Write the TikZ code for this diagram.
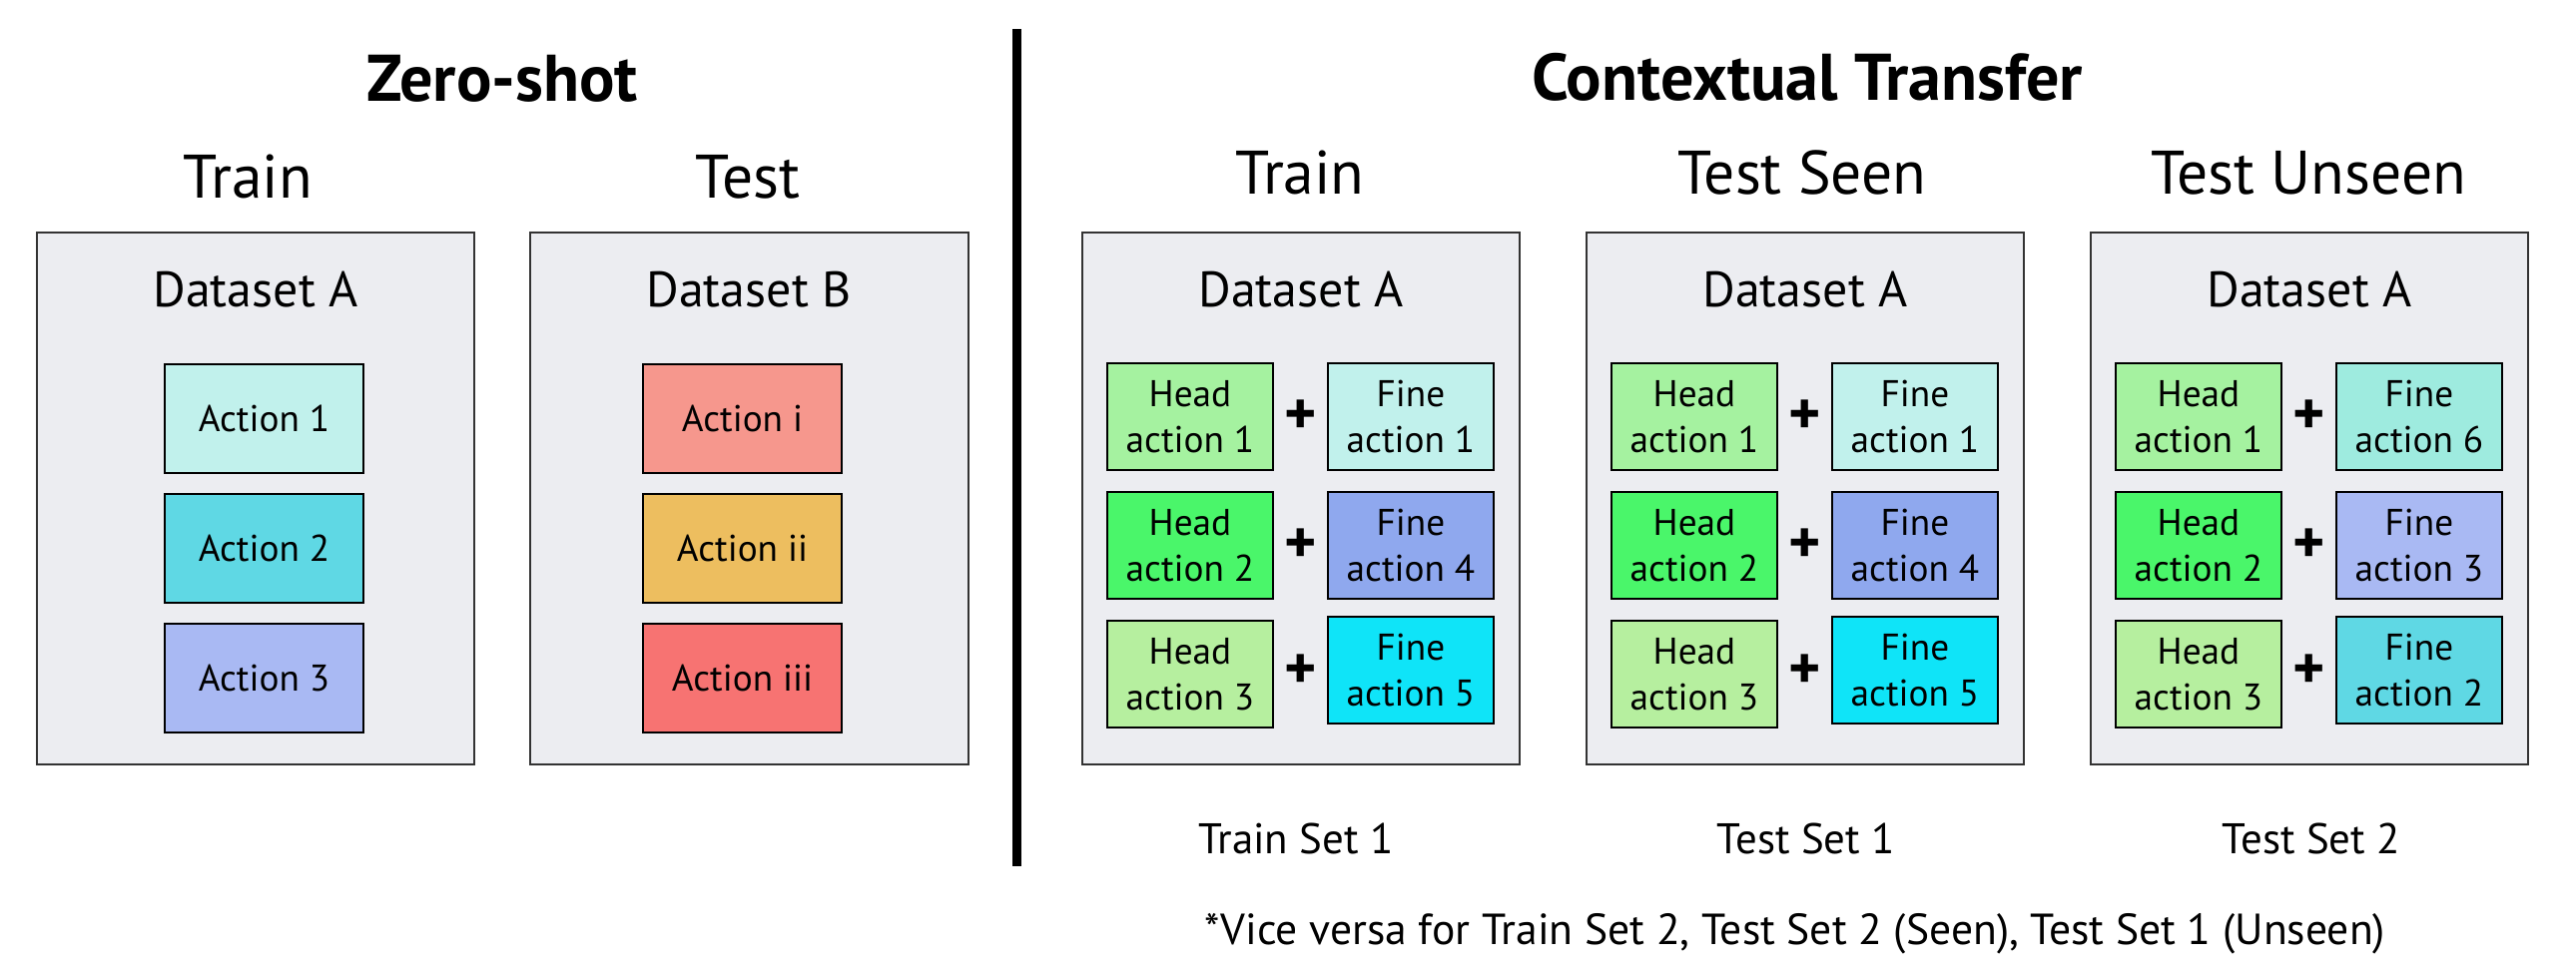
\documentclass[tikz,border=0pt]{standalone}
\usepackage{fontspec}
\setmainfont{PT Sans}
\definecolor{panelfill}{HTML}{ECEDF1}
\definecolor{panelborder}{HTML}{333333}
\definecolor{cA}{HTML}{C1F1EC}
\definecolor{cB}{HTML}{5FD8E4}
\definecolor{cC}{HTML}{A9B9F3}
\definecolor{cI}{HTML}{F6978D}
\definecolor{cII}{HTML}{EDBE5F}
\definecolor{cIII}{HTML}{F77372}
\definecolor{hA}{HTML}{A5F2A0}
\definecolor{hB}{HTML}{4AF66A}
\definecolor{hC}{HTML}{B6EF9F}
\definecolor{fD}{HTML}{8FA8EE}
\definecolor{fE}{HTML}{0FE4F8}
\definecolor{fF}{HTML}{9EEBDF}
\tikzset{
  panel/.style={draw=panelborder, fill=panelfill, line width=0.6pt, minimum width=4.38cm, minimum height=5.33cm, inner sep=0pt},
  actbox/.style={draw=black, line width=0.6pt, minimum width=1.99cm, minimum height=1.09cm, inner sep=0pt, font=\fontsize{10.6pt}{13pt}\selectfont},
  pairbox/.style={draw=black, line width=0.6pt, minimum width=1.66cm, minimum height=1.07cm, inner sep=0pt, align=center, font=\fontsize{10.6pt}{13.1pt}\selectfont},
  titletext/.style={font=\fontsize{18.8pt}{22pt}\selectfont\bfseries, anchor=base},
  subtitle/.style={font=\fontsize{17.5pt}{21pt}\selectfont, anchor=base},
  dslabel/.style={font=\fontsize{14.2pt}{17pt}\selectfont, anchor=base},
  setlabel/.style={font=\fontsize{12.2pt}{15pt}\selectfont, anchor=base},
  notelabel/.style={font=\fontsize{12.4pt}{15pt}\selectfont, anchor=base},
  plussign/.style={font=\fontsize{17.5pt}{19pt}\selectfont\bfseries, inner sep=0pt},
}
% #1 name prefix, #2 left x, #3/#4 fine 1 colour/number, #5/#6 fine 2, #7/#8 fine 3
\newcommand\ctpanel[8]{%
  \node[panel] (#1) at ({#2+219},499.5) {};
  \node[dslabel] (#1ds) at ({#2+219},307) {Dataset A};
  \node[pairbox, fill=hA] (#1h1) at ({#2+108},417.5) {Head\\action 1};
  \node[pairbox, fill=hB] (#1h2) at ({#2+108},546.5) {Head\\action 2};
  \node[pairbox, fill=hC] (#1h3) at ({#2+108},675.5) {Head\\action 3};
  \node[pairbox, fill=#3] (#1f1) at ({#2+329},417.5) {Fine\\action #4};
  \node[pairbox, fill=#5] (#1f2) at ({#2+329},546.5) {Fine\\action #6};
  \node[pairbox, fill=#7] (#1f3) at ({#2+329},671.5) {Fine\\action #8};
  \node[plussign] (#1p1) at ({#2+218.5},418) {+};
  \node[plussign] (#1p2) at ({#2+218.5},547) {+};
  \node[plussign] (#1p3) at ({#2+218.5},673) {+};
}
\begin{document}
\begin{tikzpicture}[x=0.01cm,y=-0.01cm]
\useasboundingbox (0,0) rectangle (2580,975);
% divider
\coordinate (divtop) at (1018.5,29);
\coordinate (divbot) at (1018.5,868);
\draw[line width=2.3pt] (divtop) -- (divbot);
% Zero-shot
\node[titletext] (zs) at (503,101) {Zero-shot};
\node[subtitle] (trA) at (248.5,198) {Train};
\node[subtitle] (teB) at (749,198) {Test};
\node[panel] (pA) at (256,499.5) {};
\node[panel] (pB) at (750.5,499.5) {};
\node[dslabel] (dA) at (256,307) {Dataset A};
\node[dslabel] (dB) at (750,307) {Dataset B};
\node[actbox, fill=cA] (a1) at (264.5,419.5) {Action 1};
\node[actbox, fill=cB] (a2) at (264.5,549.5) {Action 2};
\node[actbox, fill=cC] (a3) at (264.5,679.5) {Action 3};
\node[actbox, fill=cI] (b1) at (743.5,419.5) {Action i};
\node[actbox, fill=cII] (b2) at (743.5,549.5) {Action ii};
\node[actbox, fill=cIII] (b3) at (743.5,679.5) {Action iii};
% Contextual transfer
\node[titletext] (ct) at (1810,100) {Contextual Transfer};
\node[subtitle] (trC) at (1302,194) {Train};
\node[subtitle] (tsC) at (1805,194) {Test Seen};
\node[subtitle] (tuC) at (2312,194) {Test Unseen};
\ctpanel{P}{1084}{cA}{1}{fD}{4}{fE}{5}
\ctpanel{Q}{1589}{cA}{1}{fD}{4}{fE}{5}
\ctpanel{R}{2094}{fF}{6}{cC}{3}{cB}{2}
\node[setlabel] (s1) at (1298,855) {Train Set 1};
\node[setlabel] (s2) at (1809,855) {Test Set 1};
\node[setlabel] (s3) at (2315,855) {Test Set 2};
\node[notelabel] (note) at (1798,946) {*Vice versa for Train Set 2, Test Set 2 (Seen), Test Set 1 (Unseen)};
\end{tikzpicture}
\end{document}
